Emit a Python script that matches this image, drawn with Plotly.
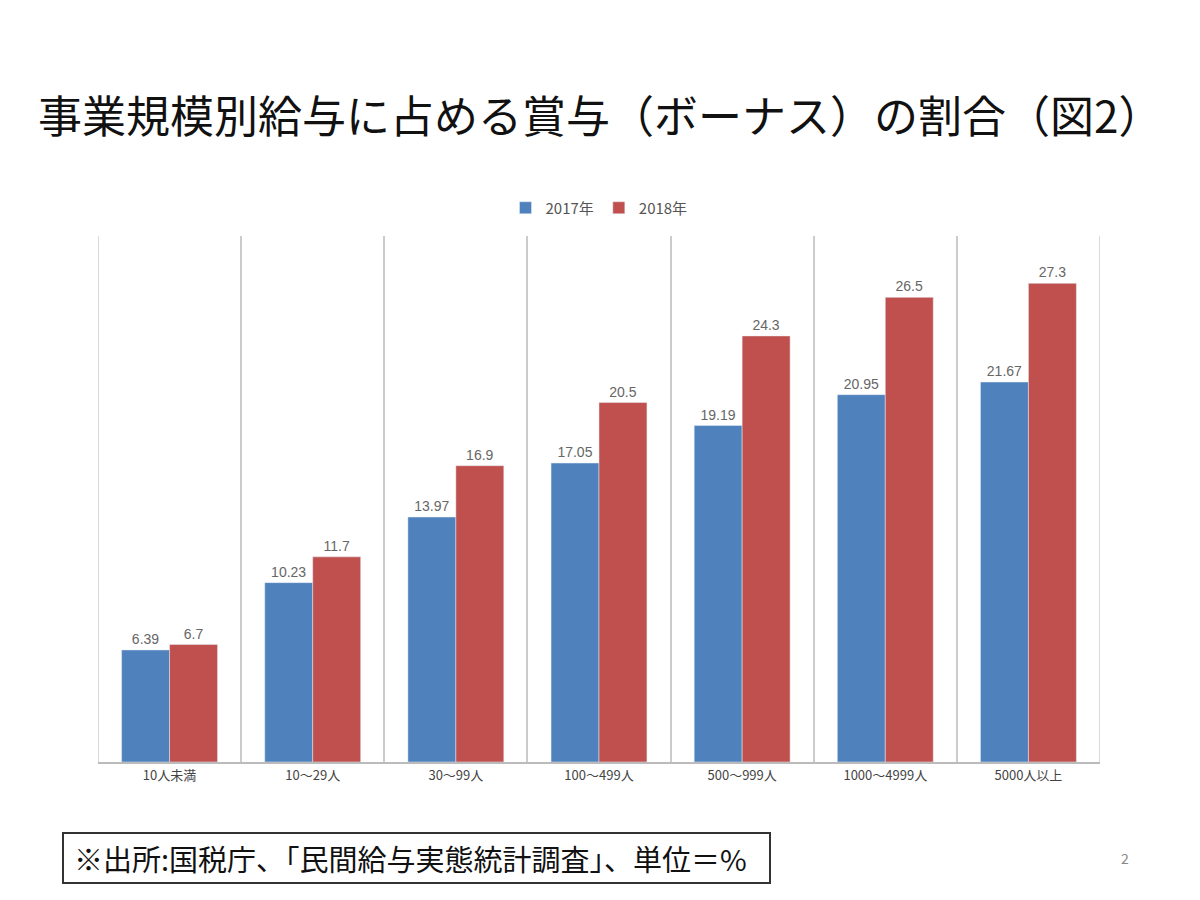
import plotly.graph_objects as go

categories = ["10人未満", "10～29人", "30～99人", "100～499人", "500～999人", "1000～4999人", "5000人以上"]
values_2017 = [6.39, 10.23, 13.97, 17.05, 19.19, 20.95, 21.67]
values_2018 = [6.7, 11.7, 16.9, 20.5, 24.3, 26.5, 27.3]
labels_2017 = ["6.39", "10.23", "13.97", "17.05", "19.19", "20.95", "21.67"]
labels_2018 = ["6.7", "11.7", "16.9", "20.5", "24.3", "26.5", "27.3"]

FONT = "Noto Sans CJK JP"
W, H = 1200, 900
L, R, T, B = 98, 100, 236, 138
PW, PH = W - L - R, H - T - B


def px(x):
    return (x - L) / PW


def py(y):
    return (H - B - y) / PH


fig = go.Figure()
fig.add_trace(go.Bar(
    x=categories, y=values_2017, name="2017年", marker_color="#4F81BD",
    text=labels_2017, textposition="outside", cliponaxis=False,
    textfont=dict(size=14, color="#666666", family="Arial"),
))
fig.add_trace(go.Bar(
    x=categories, y=values_2018, name="2018年", marker_color="#C0504D",
    text=labels_2018, textposition="outside", cliponaxis=False,
    textfont=dict(size=14, color="#666666", family="Arial"),
))

fig.update_layout(
    width=W, height=H,
    margin=dict(l=L, r=R, t=T, b=B),
    paper_bgcolor="white", plot_bgcolor="white",
    barmode="group", bargap=0.33, bargroupgap=0,
    font=dict(family=FONT, color="#444444"),
    showlegend=True,
    legend=dict(orientation="h", x=0.5, xanchor="center", y=py(208), yanchor="middle",
                font=dict(size=15, color="#555555", family=FONT), traceorder="normal",
                itemwidth=30),
    xaxis=dict(
        type="category", range=[-0.5, 6.5], tickson="boundaries",
        showgrid=True, gridcolor="#CCCCCC", gridwidth=1.5,
        ticks="", showline=True, linecolor="#BBBBBB", linewidth=2,
        tickfont=dict(size=13, color="#444444", family=FONT),
    ),
    yaxis=dict(range=[0, 30], visible=False, showgrid=False, zeroline=False),
)

# boundary lines at left and right edges of plot
for xv in (-0.5, 6.5):
    fig.add_shape(type="line", xref="x", yref="paper", x0=xv, x1=xv, y0=0, y1=1,
                  line=dict(color="#CCCCCC", width=1.5), layer="below")

# title
fig.add_annotation(text="事業規模別給与に占める賞与（ボーナス）の割合（図2）",
                   xref="paper", yref="paper", x=px(600), y=py(114),
                   xanchor="center", yanchor="middle", showarrow=False,
                   font=dict(size=44, color="#111111", family=FONT))

# footer box
fig.add_shape(type="rect", xref="paper", yref="paper",
              x0=px(63), x1=px(770), y0=py(883), y1=py(833),
              line=dict(color="#333333", width=2), fillcolor="white")
fig.add_annotation(text="※出所:国税庁、「民間給与実態統計調査」、単位＝%",
                   xref="paper", yref="paper", x=px(72), y=py(858),
                   xanchor="left", yanchor="middle", showarrow=False,
                   font=dict(size=29, color="#111111", family=FONT))

# page number
fig.add_annotation(text="2", xref="paper", yref="paper", x=px(1125), y=py(858),
                   xanchor="center", yanchor="middle", showarrow=False,
                   font=dict(size=14, color="#888888", family=FONT))

fig.write_html("out.html")
